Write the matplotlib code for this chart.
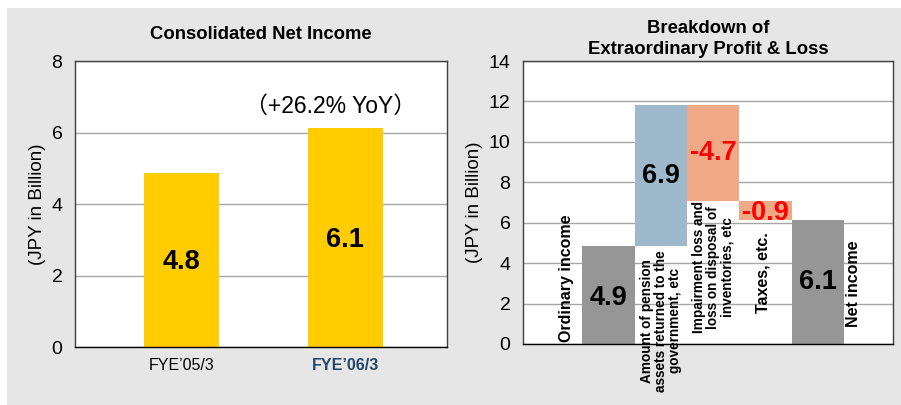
import matplotlib.pyplot as plt
from matplotlib.patches import Rectangle

plt.rcParams['font.family'] = ['Liberation Sans', 'DejaVu Sans']

# left chart: consolidated net income
years = ["FYE\u201905/3", "FYE\u201906/3"]
net_income = [4.86, 6.12]
net_labels = ["4.8", "6.1"]
yoy_text = "\uff08+26.2% YoY\uff09"

# right chart: breakdown (waterfall)
steps = ["Ordinary income",
         "Amount of pension\nassets returned to the\ngovernment, etc",
         "Impairment loss and\nloss on disposal of\ninventories, etc",
         "Taxes, etc.",
         "Net income"]
changes = [4.87, 6.93, -4.72, -0.94]

yellow = "#ffcc00"
grey_bar = "#969696"
blue_bar = "#9eb8cc"
salmon = "#f0a987"
grid_c = "#a6a6a6"
spine_c = "#404040"

fig = plt.figure(figsize=(9.01, 4.05), dpi=100)
fig.patches.append(Rectangle((7 / 901, 0), 1, 397 / 405, transform=fig.transFigure,
                             facecolor="#e6e6e6", edgecolor="none", zorder=-10))


def style_axes(ax, ymax, step):
    ax.set_facecolor("white")
    ax.set_ylim(0, ymax)
    ax.set_yticks(range(0, ymax + 1, step))
    ax.yaxis.grid(True, color=grid_c, linewidth=1)
    ax.set_axisbelow(True)
    for s in ax.spines.values():
        s.set_color(spine_c)
        s.set_linewidth(1)
    ax.spines['bottom'].set_color("black")
    ax.tick_params(axis='y', length=0, pad=9, labelsize=14)
    ax.set_ylabel("(JPY in Billion)", fontsize=13.5, labelpad=4)


# ---- left
ax1 = fig.add_axes([75 / 901, 1 - 347 / 405, 372 / 901, 286 / 405])
style_axes(ax1, 8, 2)
xs = list(range(len(years)))
ax1.bar(xs, net_income, width=0.457, color=yellow, zorder=2)
ax1.set_xlim(-0.65, 1.62)
ax1.set_xticks(xs)
ax1.set_xticklabels(years, fontsize=11.5)
ax1.tick_params(axis='x', length=0, pad=8)
lbls = ax1.get_xticklabels()
lbls[1].set_fontweight('bold')
lbls[1].set_color("#23476b")
for x, v, t in zip(xs, net_income, net_labels):
    ax1.text(x, v * 0.49, t, ha='center', va='center', fontsize=19.5, fontweight='bold')
ax1.text(xs[1] - 0.09, net_income[1] + 0.6, yoy_text, ha='center', va='center',
         fontsize=16.5, family=['Liberation Sans', 'Noto Sans CJK JP'])
ax1.set_title("Consolidated Net Income", fontsize=13.3, fontweight='bold', pad=16)

# ---- right
ax2 = fig.add_axes([523 / 901, 1 - 344 / 405, 370 / 901, 283 / 405])
style_axes(ax2, 14, 2)
ax2.set_xlim(-1.63, 5.43)
ax2.set_xticks([])

bottoms = []
heights = []
level = 0
for c in changes:
    if c >= 0:
        bottoms.append(level)
        heights.append(c)
    else:
        bottoms.append(level + c)
        heights.append(-c)
    level += c
bottoms.append(0)
heights.append(level)
values = changes + [level]
colors = [grey_bar, blue_bar, salmon, salmon, grey_bar]
xs2 = list(range(len(steps)))
ax2.bar(xs2, heights, bottom=bottoms, width=1.0, color=colors, zorder=2)

# value labels
val_y = [2.3, 8.3, 9.45, 6.5, 3.05]
for x, v, y in zip(xs2, values, val_y):
    col = 'red' if v < 0 else 'black'
    ax2.text(x, y, f"{v:.1f}", ha='center', va='center', fontsize=19.5,
             fontweight='bold', color=col, zorder=3)

# category labels
lab_pos = [(-0.8, 3.27, 11.5), (1.0, 1.14, 9.8), (2.0, 3.8, 9.8), (2.95, 3.55, 11.5), (4.67, 2.97, 11.5)]
for s, (x, y, fs) in zip(steps, lab_pos):
    ax2.text(x, y, s, rotation=90, ha='center', va='center', multialignment='center',
             fontsize=fs, fontweight='bold', linespacing=1.0, zorder=3)

ax2.set_title("Breakdown of\nExtraordinary Profit & Loss", fontsize=13.3,
              fontweight='bold', pad=5, linespacing=1.35)

fig.savefig("out.png", dpi=100)
